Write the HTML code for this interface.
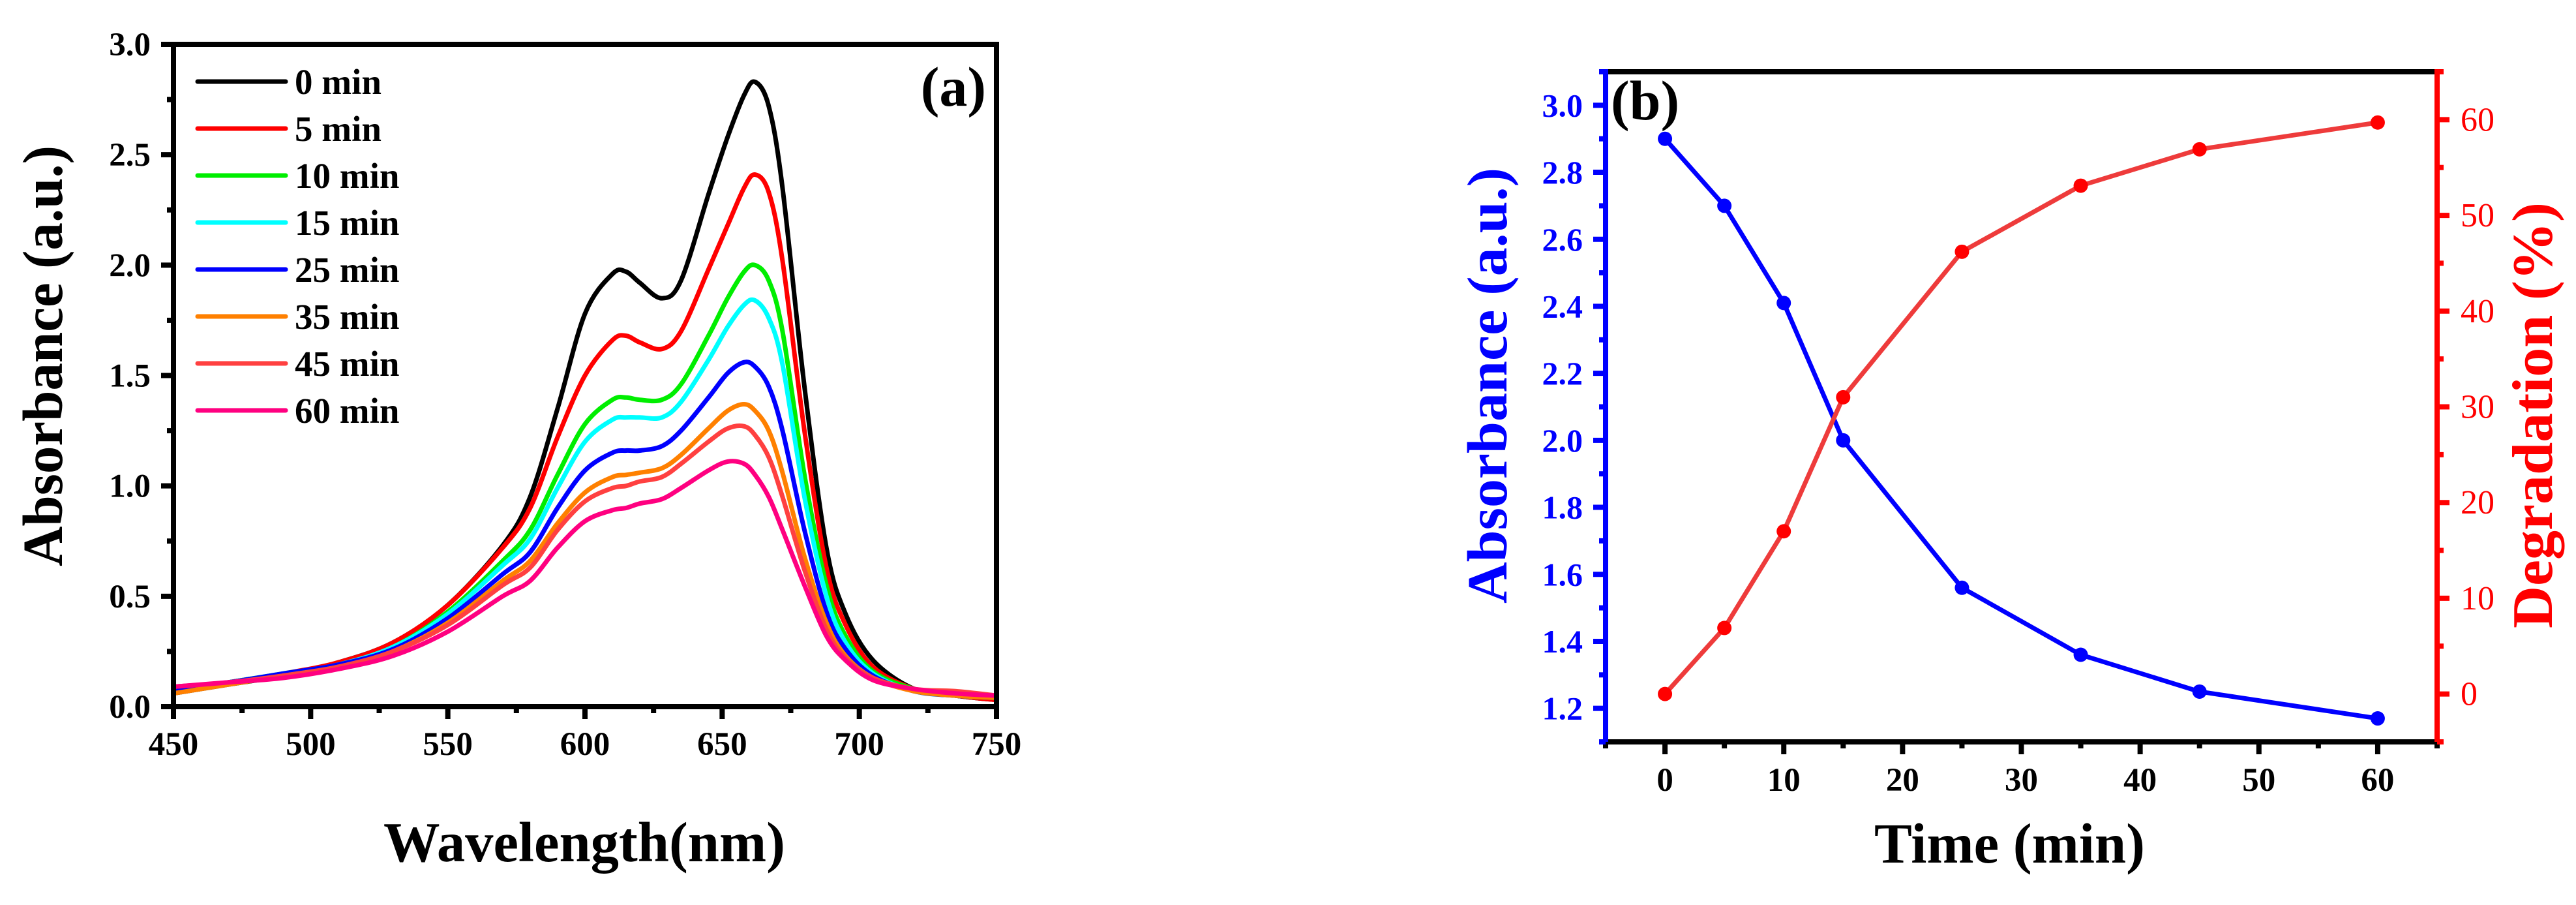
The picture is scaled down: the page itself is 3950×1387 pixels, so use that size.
<!DOCTYPE html>
<html><head><meta charset="utf-8"><style>
html,body{margin:0;padding:0;background:#fff;}
svg, svg text{font-family:"Liberation Serif","Times New Roman",Times,serif;}
</style></head><body>
<svg id="fig" width="3950" height="1382" viewBox="0 0 3950 1382" xmlns="http://www.w3.org/2000/svg" font-family="Liberation Serif, Times New Roman, serif">
<g id="pa"></g>
<g id="pb"></g>
</svg>
<script>
// ---- Panel (a) data ----
const wavelengths = [450,470,490,510,530,550,570,580,590,600,610,615,620,628,635,645,652,658,662,667,672,680,688,695,705,720,735,750];
const seriesLabels = ["0 min","5 min","10 min","15 min","25 min","35 min","45 min","60 min"];
const seriesColors = ["#000000","#ff0000","#00ee00","#00ffff","#0000ff","#ff8000","#ff4040","#ff0080"];
const abs0 = [0.06,0.10,0.14,0.20,0.29,0.46,0.73,0.95,1.35,1.78,1.96,1.97,1.92,1.85,1.93,2.32,2.58,2.77,2.83,2.72,2.35,1.45,0.72,0.42,0.21,0.08,0.05,0.03];
const abs5 = [0.07,0.11,0.15,0.20,0.29,0.46,0.72,0.90,1.22,1.50,1.66,1.68,1.65,1.62,1.70,1.98,2.18,2.35,2.41,2.33,2.02,1.25,0.63,0.37,0.18,0.08,0.05,0.03];
const abs10 = [0.07,0.11,0.15,0.19,0.27,0.43,0.66,0.80,1.05,1.28,1.39,1.40,1.39,1.39,1.46,1.68,1.85,1.97,2.00,1.93,1.70,1.05,0.55,0.32,0.16,0.08,0.05,0.04];
const abs15 = [0.08,0.11,0.15,0.19,0.27,0.42,0.64,0.76,0.99,1.20,1.30,1.31,1.31,1.31,1.38,1.57,1.72,1.82,1.84,1.76,1.55,0.95,0.50,0.29,0.15,0.07,0.05,0.04];
const abs25 = [0.08,0.11,0.15,0.19,0.26,0.40,0.60,0.70,0.90,1.07,1.15,1.16,1.16,1.18,1.25,1.40,1.51,1.56,1.54,1.45,1.25,0.80,0.43,0.26,0.14,0.07,0.05,0.04];
const abs35 = [0.06,0.10,0.14,0.18,0.25,0.38,0.57,0.66,0.83,0.97,1.04,1.05,1.06,1.08,1.14,1.26,1.34,1.37,1.34,1.25,1.06,0.68,0.38,0.23,0.13,0.07,0.05,0.04];
const abs45 = [0.09,0.11,0.14,0.18,0.25,0.37,0.55,0.63,0.80,0.93,0.99,1.00,1.02,1.04,1.10,1.20,1.26,1.27,1.23,1.13,0.95,0.62,0.35,0.22,0.13,0.08,0.07,0.05];
const abs60 = [0.09,0.11,0.13,0.17,0.23,0.34,0.50,0.57,0.72,0.84,0.89,0.90,0.92,0.94,0.99,1.07,1.11,1.10,1.05,0.95,0.80,0.55,0.32,0.21,0.12,0.08,0.06,0.05];
const aXTicks = [450,500,550,600,650,700,750];
const aYTicks = ["0.0","0.5","1.0","1.5","2.0","2.5","3.0"];

// ---- Panel (b) data ----
const times = [0,5,10,15,25,35,45,60];
const absorbanceB = [2.90,2.70,2.41,2.00,1.56,1.36,1.25,1.17];
const degradation = [0,6.9,17.0,31.0,46.2,53.1,56.9,59.7];
const bXTicks = [0,10,20,30,40,50,60];
const bYTicks = ["1.2","1.4","1.6","1.8","2.0","2.2","2.4","2.6","2.8","3.0"];
const bY2Ticks = [0,10,20,30,40,50,60];

const NS="http://www.w3.org/2000/svg";
const FF="Liberation Serif, Times New Roman, serif";
function mk(tag, attrs, parent){const e=document.createElementNS(NS,tag);for(const k in attrs)e.setAttribute(k,attrs[k]);
  if(tag==='text'){e.setAttribute('font-family',FF);if(attrs.textLength)e.setAttribute('lengthAdjust','spacingAndGlyphs');}
  parent.appendChild(e);return e;}
function smooth(pts){let d="M"+pts[0][0].toFixed(1)+","+pts[0][1].toFixed(1);
  for(let i=0;i<pts.length-1;i++){const p0=pts[Math.max(0,i-1)],p1=pts[i],p2=pts[i+1],p3=pts[Math.min(pts.length-1,i+2)];
    const c1=[p1[0]+(p2[0]-p0[0])/6,p1[1]+(p2[1]-p0[1])/6],c2=[p2[0]-(p3[0]-p1[0])/6,p2[1]-(p3[1]-p1[1])/6];
    d+=" C"+c1[0].toFixed(1)+","+c1[1].toFixed(1)+" "+c2[0].toFixed(1)+","+c2[1].toFixed(1)+" "+p2[0].toFixed(1)+","+p2[1].toFixed(1);}
  return d;}

// ===== Panel A =====
(function(){
const g=document.getElementById('pa');
const L=266,R=1528,T=68,B=1083;
const xs=v=>L+(v-450)/300*(R-L);
const ys=v=>B-(v-0)/3*(B-T);
const all=[abs0,abs5,abs10,abs15,abs25,abs35,abs45,abs60];
all.forEach((arr,i)=>{
  const p=mk('path',{d:smooth(wavelengths.map((w,j)=>[xs(w),ys(arr[j])])),fill:'none',stroke:seriesColors[i],'stroke-width':7,'stroke-linejoin':'round'},g);
  
  
});
const fr=mk('rect',{x:L,y:T,width:R-L,height:B-T,fill:'none',stroke:'#000','stroke-width':8},g);


for(let v=450;v<=750;v+=25){const maj=v%50===0;
  const t=mk('line',{x1:xs(v),x2:xs(v),y1:B,y2:B+(maj?19:10),stroke:'#000','stroke-width':8},g);
  
  }
aXTicks.forEach(v=>{const t=mk('text',{x:xs(v),y:1157,'text-anchor':'middle','font-size':51,'font-weight':'bold',fill:'#000'},g);t.textContent=v;
  
  });
for(let k=0;k<=12;k++){const v=k*0.25;const maj=k%2===0;
  const t=mk('line',{x1:L,x2:L-(maj?19:10),y1:ys(v),y2:ys(v),stroke:'#000','stroke-width':8},g);
  
  }
aYTicks.forEach(s=>{const t=mk('text',{x:231,y:ys(parseFloat(s))+17,'text-anchor':'end','font-size':51,'font-weight':'bold',fill:'#000'},g);t.textContent=s;
  
  });
const xt=mk('text',{x:588,y:1320,'font-size':87,'font-weight':'bold',fill:'#000',textLength:616},g);xt.textContent='Wavelength(nm)';


const yt=mk('text',{x:0,y:0,transform:'translate(95,868) rotate(-90)','font-size':87,'font-weight':'bold',fill:'#000',textLength:645},g);yt.textContent='Absorbance (a.u.)';


const pl=mk('text',{x:1512,y:162,'text-anchor':'end','font-size':86,'font-weight':'bold',fill:'#000'},g);pl.textContent='(a)';


seriesLabels.forEach((s,i)=>{const y=125+72*i;
  const ln=mk('line',{x1:303,x2:438,y1:y,y2:y,stroke:seriesColors[i],'stroke-width':7,'stroke-linecap':'round'},g);
  
  
  const t=mk('text',{x:452,y:y+19,'font-size':55,'font-weight':'bold',fill:'#000'},g);t.textContent=s;
  
  });
})();

// ===== Panel B =====
(function(){
const g=document.getElementById('pb');
const L=2462,R=3737,T=110,B=1137;
const xs=v=>L+(v+5)/70*(R-L);
const ys=v=>B-(v-1.1)/2.0*(B-T);
const y2=v=>B-(v+5)/70*(B-T);
const top=mk('line',{x1:L,x2:R,y1:T,y2:T,stroke:'#000','stroke-width':8},g);


const bot=mk('line',{x1:L,x2:R,y1:B,y2:B,stroke:'#000','stroke-width':8},g);


const la=mk('line',{x1:L,x2:L,y1:T-4,y2:B+4,stroke:'#0000ff','stroke-width':8},g);


const ra=mk('line',{x1:R,x2:R,y1:T-4,y2:B+4,stroke:'#ff0000','stroke-width':8},g);


for(let v=-5;v<=65;v+=5){const maj=v%10===0;
  const t=mk('line',{x1:xs(v),x2:xs(v),y1:B,y2:B+(maj?19:10),stroke:'#000','stroke-width':8},g);
  
  }
bXTicks.forEach(v=>{const t=mk('text',{x:xs(v),y:1212,'text-anchor':'middle','font-size':51,'font-weight':'bold',fill:'#000'},g);t.textContent=v;
  
  });
for(let k=11;k<=31;k++){const v=k/10;const maj=k%2===0;
  const t=mk('line',{x1:L,x2:L-(maj?19:10),y1:ys(v),y2:ys(v),stroke:'#0000ff','stroke-width':8},g);
  
  }
bYTicks.forEach(s=>{const t=mk('text',{x:2427,y:ys(parseFloat(s))+17,'text-anchor':'end','font-size':50,'font-weight':'bold',fill:'#0000ff'},g);t.textContent=s;
  
  });
for(let v=-5;v<=65;v+=5){const maj=v%10===0;
  const t=mk('line',{x1:R,x2:R+(maj?19:10),y1:y2(v),y2:y2(v),stroke:'#ff0000','stroke-width':8},g);
  
  }
bY2Ticks.forEach(v=>{const t=mk('text',{x:3773,y:y2(v)+17,'font-size':52,fill:'#ff0000'},g);t.textContent=v;
  
  });
const bl=mk('polyline',{points:times.map((t,i)=>xs(t)+','+ys(absorbanceB[i])).join(' '),fill:'none',stroke:'#0000ff','stroke-width':7,'stroke-linejoin':'round'},g);


const rl=mk('polyline',{points:times.map((t,i)=>xs(t)+','+y2(degradation[i])).join(' '),fill:'none',stroke:'#ee3b3b','stroke-width':7,'stroke-linejoin':'round'},g);


times.forEach((t,i)=>{
  const c=mk('circle',{cx:xs(t),cy:ys(absorbanceB[i]),r:11,fill:'#0000ff'},g);
  
  
  const d=mk('circle',{cx:xs(t),cy:y2(degradation[i]),r:11,fill:'#ff0000'},g);
  
  
});
const xt=mk('text',{x:2874,y:1322,'font-size':87,'font-weight':'bold',fill:'#000',textLength:415},g);xt.textContent='Time (min)';


const yt=mk('text',{x:0,y:0,transform:'translate(2310,925) rotate(-90)','font-size':87,'font-weight':'bold',fill:'#0000ff',textLength:668},g);yt.textContent='Absorbance (a.u.)';


const y2t=mk('text',{x:0,y:0,transform:'translate(3913,963) rotate(-90)','font-size':88,'font-weight':'bold',fill:'#ff0000',textLength:653},g);y2t.textContent='Degradation (%)';


const pl=mk('text',{x:2470,y:183,'font-size':86,'font-weight':'bold',fill:'#000'},g);pl.textContent='(b)';


})();
</script>
</body></html>
